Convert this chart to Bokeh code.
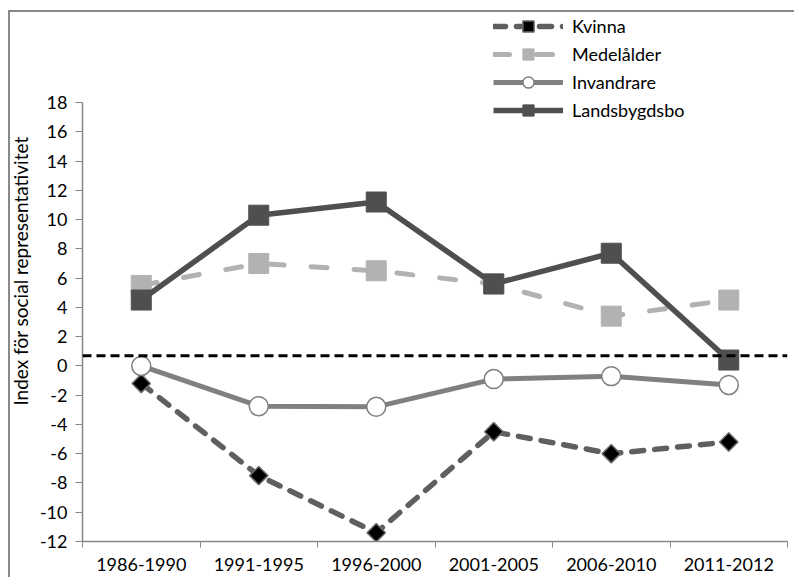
import math
from bokeh.plotting import figure
from bokeh.models import FixedTicker, Span, Legend, LegendItem, Range1d
from bokeh.embed import file_html
from bokeh.resources import INLINE

# ---- data ----
periods = ["1986-1990", "1991-1995", "1996-2000", "2001-2005", "2006-2010", "2011-2012"]
kvinna = [-1.2, -7.5, -11.4, -4.5, -6.0, -5.2]
medelalder = [5.5, 7.0, 6.5, 5.6, 3.4, 4.5]
invandrare = [0.0, -2.75, -2.8, -0.9, -0.7, -1.3]
landsbygdsbo = [4.5, 10.3, 11.2, 5.6, 7.7, 0.4]
reference_level = 0.7
y_ticks = [-12, -10, -8, -6, -4, -2, 0, 2, 4, 6, 8, 10, 12, 14, 16, 18]
y_label = "Index för social representativitet"

FONT = "Lato"
AXIS_GRAY = "#868686"
BORDER = "#898989"

xs = [i + 0.5 for i in range(len(periods))]
boundaries = [i for i in range(len(periods) + 1)]

p = figure(width=794, height=577, output_backend="svg", toolbar_location=None,
           x_range=Range1d(0, len(periods)), y_range=Range1d(-12, 24.97),
           min_border_left=82, min_border_right=7, min_border_top=0, min_border_bottom=36)
# chart-area border (top and left edges) drawn as a page background behind a transparent canvas
p.styles = {"background": (f"linear-gradient({BORDER}, {BORDER}) 8px 10px / 2px calc(100% - 10px) no-repeat, "
                           f"linear-gradient({BORDER}, {BORDER}) 8px 10px / calc(100% - 8px) 2px no-repeat, "
                           "#ffffff")}
p.xgrid.visible = False
p.ygrid.visible = False
p.outline_line_color = None
p.background_fill_color = None
p.border_fill_color = None

# x axis
xa = p.xaxis[0]
xa.ticker = FixedTicker(ticks=xs, minor_ticks=boundaries)
xa.major_label_overrides = {x: lab for x, lab in zip(xs, periods)}
xa.major_tick_out = 0
xa.major_tick_in = 0
xa.minor_tick_out = 6
xa.minor_tick_in = 0
xa.minor_tick_line_color = AXIS_GRAY
xa.axis_line_color = AXIS_GRAY
xa.axis_line_width = 1.5
xa.major_label_standoff = 10
xa.major_label_text_font = FONT
xa.major_label_text_font_size = "18px"
xa.major_label_text_color = "black"

# y axis
ya = p.yaxis[0]
ya.ticker = FixedTicker(ticks=y_ticks, minor_ticks=[])
ya.major_label_overrides = {t: str(t) for t in y_ticks}
ya.bounds = (y_ticks[0], y_ticks[-1])
ya.major_tick_out = 7
ya.major_tick_in = 0
ya.minor_tick_out = 0
ya.major_tick_line_color = AXIS_GRAY
ya.axis_line_color = AXIS_GRAY
ya.axis_line_width = 1.5
ya.major_label_standoff = 8
ya.major_label_text_font = FONT
ya.major_label_text_font_size = "18px"
ya.major_label_text_color = "black"
ya.axis_label = y_label
ya.axis_label_text_font = FONT
ya.axis_label_text_font_size = "19px"
ya.axis_label_text_font_style = "normal"
ya.axis_label_text_color = "black"
ya.axis_label_standoff = 5

# series
k_line = p.line(xs, kvinna, line_color="#5f5f5f", line_width=5.5, line_dash="12 11", line_cap="round")
k_pts = p.scatter(xs, kvinna, marker="square", angle=math.pi / 4, size=13,
                  fill_color="black", line_color="#6b6b6b", line_width=1.5)

m_line = p.line(xs, medelalder, line_color="#b2b2b2", line_width=5, line_dash="16 27", line_cap="round")
m_pts = p.scatter(xs, medelalder, marker="square", size=20, fill_color="#b2b2b2", line_color="#b2b2b2")

i_line = p.line(xs, invandrare, line_color="#808080", line_width=5)
i_pts = p.scatter(xs, invandrare, marker="circle", size=19, fill_color="white",
                  line_color="#7f7f7f", line_width=1.5)

l_line = p.line(xs, landsbygdsbo, line_color="#4f4f4f", line_width=5.5)
l_pts = p.scatter(xs, landsbygdsbo, marker="square", size=20, fill_color="#4f4f4f", line_color="#4f4f4f")

span = Span(location=reference_level, dimension="width", line_color="black",
            line_width=3, line_dash="9 5")
p.add_layout(span)

legend = Legend(items=[
    LegendItem(label="Kvinna", renderers=[k_line, k_pts]),
    LegendItem(label="Medelålder", renderers=[m_line, m_pts]),
    LegendItem(label="Invandrare", renderers=[i_line, i_pts]),
    LegendItem(label="Landsbygdsbo", renderers=[l_line, l_pts]),
], location=(411, 417), padding=0, margin=0, spacing=0,
    glyph_width=70, glyph_height=28, label_height=28, label_standoff=9,
    label_text_font=FONT, label_text_font_size="18px", label_text_color="black",
    border_line_alpha=0, background_fill_alpha=0)
p.add_layout(legend)

open("out.html", "w").write(file_html(p, INLINE))
